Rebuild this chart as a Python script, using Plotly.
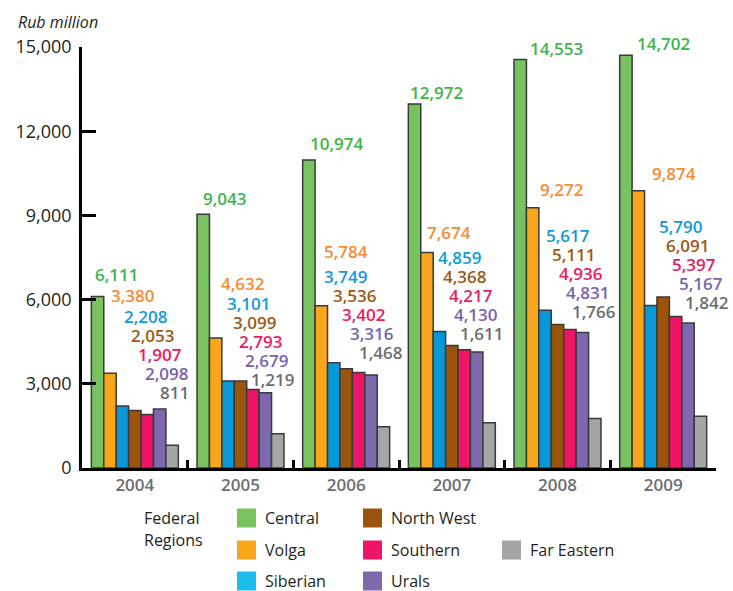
import plotly.graph_objects as go

years = ["2004", "2005", "2006", "2007", "2008", "2009"]
regions = ["Central", "Volga", "Siberian", "North West", "Southern", "Urals", "Far Eastern"]
central = [6111, 9043, 10974, 12972, 14553, 14702]
volga = [3380, 4632, 5784, 7674, 9272, 9874]
siberian = [2208, 3101, 3749, 4859, 5617, 5790]
north_west = [2053, 3099, 3536, 4368, 5111, 6091]
southern = [1907, 2793, 3402, 4217, 4936, 5397]
urals = [2098, 2679, 3316, 4130, 4831, 5167]
far_eastern = [811, 1219, 1468, 1611, 1766, 1842]
y_ticks = [0, 3000, 6000, 9000, 12000, 15000]

series = [central, volga, siberian, north_west, southern, urals, far_eastern]
bar_colors = ["#78c25f", "#f9a61c", "#0a97d8", "#9b540c", "#ee1466", "#7f69ae", "#a4a5a8"]
swatch_colors = ["#78c25f", "#f9a61c", "#1dbcef", "#9b540c", "#ee1466", "#7f69ae", "#a4a5a8"]
label_colors = ["#3db54a", "#f68b33", "#129ad9", "#9b5a15", "#ec1a62", "#7a63ab", "#6d6e71"]

FONT = "Open Sans"

fig = go.Figure()
for name, vals, col in zip(regions, series, bar_colors):
    fig.add_trace(go.Bar(
        x=years, y=vals, name=name, marker_color=col,
        marker_line=dict(color="#3a3a3a", width=1.5),
        showlegend=False, hoverinfo="skip"))

# label placement styles (pixel offsets per year)
c_dx = [-18, -16, -9, -15, -1, 0]
c_dy = [22, 16, 17, 11, 11, 12]
v_dx = [-2, 2, 0, -3, 4, 11]
v_dy = [78, 55, 54, 20, 18, 17]
b_dx = [11, 8, 0, 8, 10, 18]
b_gap = [21, 20, 25, 25, 46, 53]
step_dx = [7.2, 6, 8.7, 5.5, 6.7, 6.5]
STEP_DY = 19

W, H = 733, 591
L, R, T, B = 82, 716, 47, 468
def px(x): return (x - L) / (R - L)
def py(y): return (B - y) / (B - T)

ann = []
lab_font = dict(family=FONT, size=17, weight=600)
for j, yr in enumerate(years):
    ann.append(dict(x=j, y=central[j], xref="x", yref="y", text=f"{central[j]:,}",
                    showarrow=False, xshift=c_dx[j], yshift=c_dy[j],
                    font=dict(lab_font, color=label_colors[0])))
    ann.append(dict(x=j, y=volga[j], xref="x", yref="y", text=f"{volga[j]:,}",
                    showarrow=False, xshift=v_dx[j], yshift=v_dy[j],
                    font=dict(lab_font, color=label_colors[1])))
    for i in range(2, 7):
        k = i - 2
        ann.append(dict(x=j, y=volga[j], xref="x", yref="y", text=f"{series[i][j]:,}",
                        showarrow=False, xshift=b_dx[j] + k * step_dx[j],
                        yshift=v_dy[j] - b_gap[j] - k * STEP_DY,
                        font=dict(lab_font, color=label_colors[i])))

ann.append(dict(x=px(16), y=py(22), xref="paper", yref="paper", text="Rub million",
                showarrow=False, xanchor="left", yanchor="middle",
                font=dict(family=FONT, size=16, style="italic", color="#231f20")))

# custom legend
txt_col = "#231f20"
ann.append(dict(x=px(142), y=py(518), xref="paper", yref="paper", text="Federal",
                showarrow=False, xanchor="left", yanchor="middle",
                font=dict(family=FONT, size=16, color=txt_col)))
ann.append(dict(x=px(142), y=py(540), xref="paper", yref="paper", text="Regions",
                showarrow=False, xanchor="left", yanchor="middle",
                font=dict(family=FONT, size=16, color=txt_col)))
slots = {"Central": (237, 518), "Volga": (237, 550), "Siberian": (237, 581),
         "North West": (363, 518), "Southern": (363, 550), "Urals": (363, 581),
         "Far Eastern": (502, 550)}
shapes = []
for name, col in zip(regions, swatch_colors):
    sx, sy = slots[name]
    shapes.append(dict(type="rect", xref="paper", yref="paper",
                       x0=px(sx), x1=px(sx + 19), y0=py(sy - 9.5), y1=py(sy + 9.5),
                       fillcolor=col, line=dict(width=0)))
    ann.append(dict(x=px(sx + 26), y=py(sy), xref="paper", yref="paper", text=name,
                    showarrow=False, xanchor="left", yanchor="middle",
                    font=dict(family=FONT, size=16, color=txt_col)))

fig.update_layout(
    width=W, height=H,
    margin=dict(l=L, r=W - R, t=T, b=H - B, pad=0),
    paper_bgcolor="white", plot_bgcolor="white",
    barmode="group", bargap=0.177, bargroupgap=0,
    annotations=ann, shapes=shapes,
    xaxis=dict(type="category", range=[-0.5, len(years) - 0.5], showgrid=False,
               showline=True, linecolor="black", linewidth=2.5,
               ticks="inside", tickson="boundaries", ticklen=8, tickwidth=2.5, tickcolor="black",
               tickfont=dict(family=FONT, size=17, weight=600, color="#6d6e71"),
               tickangle=0, zeroline=False, fixedrange=True, automargin=False),
    yaxis=dict(range=[0, 15000], tickvals=y_ticks, ticktext=[f"{v:,}" for v in y_ticks],
               showgrid=False, showline=True, linecolor="black", linewidth=2.5,
               ticks="inside", ticklen=14, tickwidth=2.5, tickcolor="black",
               tickfont=dict(family=FONT, size=18, color="#231f20"),
               ticklabelstandoff=4, zeroline=False, fixedrange=True, automargin=False),
    font=dict(family=FONT),
)

fig.write_html("out.html", config={"displayModeBar": False},
               post_script="document.body.style.margin='0';")
